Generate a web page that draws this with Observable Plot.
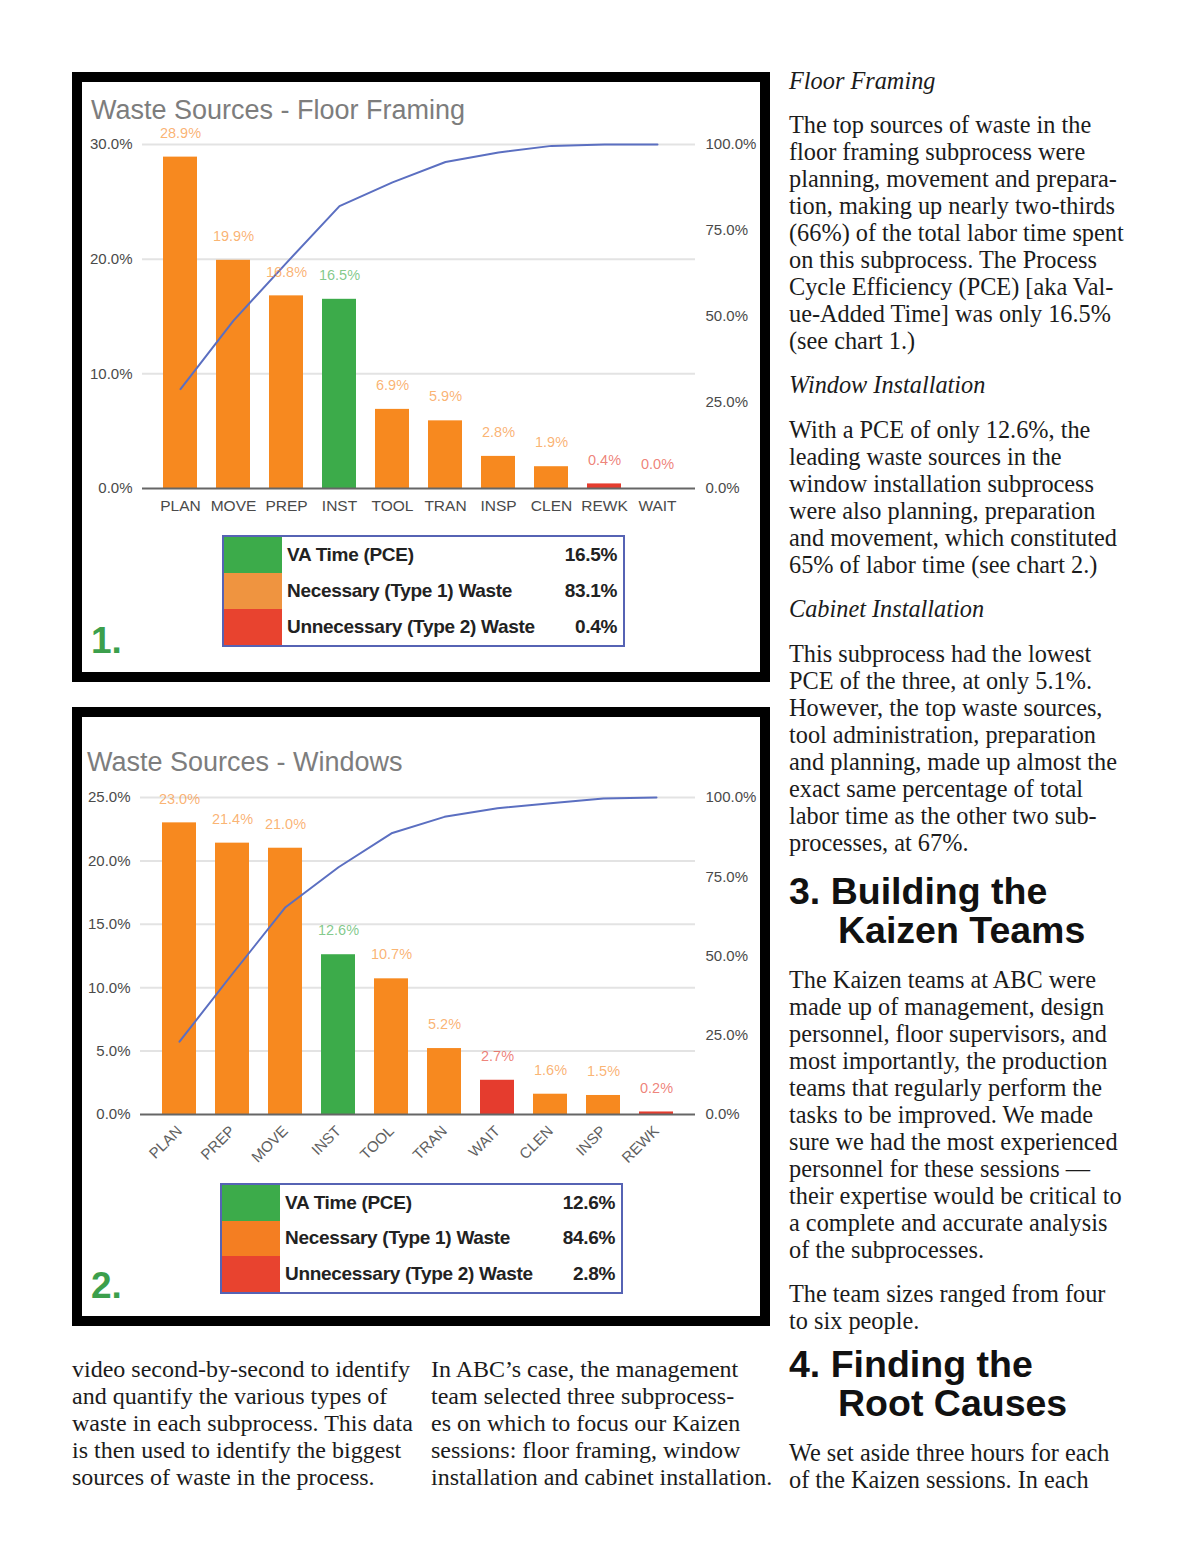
<!DOCTYPE html>
<html>
<head>
<meta charset="utf-8">
<script src="https://cdn.jsdelivr.net/npm/d3@7"></script>
<script src="https://cdn.jsdelivr.net/npm/@observablehq/plot@0.6"></script>
<style>
  html, body { margin: 0; padding: 0; background: #fff; }
  #page { position: relative; width: 1200px; height: 1558px; overflow: hidden; background: #fff; }
  .frame { position: absolute; border: 10px solid #000; background: #fff; box-sizing: border-box; }
  .abs { position: absolute; white-space: nowrap; }
  .ctitle { font-family: "Liberation Sans", Arial, sans-serif; font-size: 27px; color: #7d7d7d; line-height: 30px; }
  .num { font-family: "Liberation Sans", Arial, sans-serif; font-weight: bold; font-size: 37px; color: #3c9f4c; line-height: 40px; }
  .legend { position: absolute; border: 2px solid #5663b4; box-sizing: border-box; background: #fff; }
  .legend table { border-collapse: collapse; width: 100%; height: 100%; }
  .legend td { padding: 0; font-family: "Liberation Sans", Arial, sans-serif; font-weight: bold; font-size: 19px; color: #222; letter-spacing: -0.3px; }
  .legend td.sw { width: 58px; }
  .legend td.lab { padding-left: 5px; }
  .legend td.val { text-align: right; padding-right: 6px; }
  .txt { font-family: "Liberation Serif", "Times New Roman", serif; font-size: 24.3px; line-height: 27px; color: #1b1b1b; }
  .txtb { font-family: "Liberation Serif", "Times New Roman", serif; font-size: 24px; line-height: 27px; color: #1b1b1b; }
  .it { font-style: italic; }
  .head { font-family: "Liberation Sans", Arial, sans-serif; font-weight: bold; font-size: 37.5px; line-height: 39px; color: #111; }
  .plotbox { position: absolute; }
</style>
</head>
<body>
<div id="page">
  <div class="frame" style="left:72px; top:72px; width:698px; height:610px;"></div>
  <div class="frame" style="left:72px; top:707px; width:698px; height:619px;"></div>

  <div class="abs ctitle" style="left:91px; top:95px;">Waste Sources - Floor Framing</div>
  <div class="abs ctitle" style="left:87px; top:747px;">Waste Sources - Windows</div>

  <div id="chart1" class="plotbox" style="left:82px; top:82px;"></div>
  <div id="chart2" class="plotbox" style="left:82px; top:717px;"></div>

  <div id="legend1" class="legend" style="left:222px; top:535px; width:403px; height:112px;"></div>
  <div id="legend2" class="legend" style="left:220px; top:1183px; width:403px; height:111px;"></div>

  <div class="abs num" style="left:91px; top:621px;">1.</div>
  <div class="abs num" style="left:91px; top:1266px;">2.</div>

  <div class="abs txt it" style="left:789px; top:67px;">Floor Framing</div>
  <div class="abs txt" style="left:789px; top:111px;">The top sources of waste in the<br>floor framing subprocess were<br>planning, movement and prepara-<br>tion, making up nearly two-thirds<br>(66%) of the total labor time spent<br>on this subprocess. The Process<br>Cycle Efficiency (PCE) [aka Val-<br>ue-Added Time] was only 16.5%<br>(see chart 1.)</div>
  <div class="abs txt it" style="left:789px; top:371px;">Window Installation</div>
  <div class="abs txt" style="left:789px; top:416px;">With a PCE of only 12.6%, the<br>leading waste sources in the<br>window installation subprocess<br>were also planning, preparation<br>and movement, which constituted<br>65% of labor time (see chart 2.)</div>
  <div class="abs txt it" style="left:789px; top:595px;">Cabinet Installation</div>
  <div class="abs txt" style="left:789px; top:640px;">This subprocess had the lowest<br>PCE of the three, at only 5.1%.<br>However, the top waste sources,<br>tool administration, preparation<br>and planning, made up almost the<br>exact same percentage of total<br>labor time as the other two sub-<br>processes, at 67%.</div>
  <div class="abs head" style="left:789px; top:872px;">3. Building the<br><span style="padding-left:49px">Kaizen Teams</span></div>
  <div class="abs txt" style="left:789px; top:966px;">The Kaizen teams at ABC were<br>made up of management, design<br>personnel, floor supervisors, and<br>most importantly, the production<br>teams that regularly perform the<br>tasks to be improved. We made<br>sure we had the most experienced<br>personnel for these sessions —<br>their expertise would be critical to<br>a complete and accurate analysis<br>of the subprocesses.</div>
  <div class="abs txt" style="left:789px; top:1280px;">The team sizes ranged from four<br>to six people.</div>
  <div class="abs head" style="left:789px; top:1345px;">4. Finding the<br><span style="padding-left:49px">Root Causes</span></div>
  <div class="abs txt" style="left:789px; top:1439px;">We set aside three hours for each<br>of the Kaizen sessions. In each</div>

  <div class="abs txtb" style="left:72px; top:1356px;">video second-by-second to identify<br>and quantify the various types of<br>waste in each subprocess. This data<br>is then used to identify the biggest<br>sources of waste in the process.</div>
  <div class="abs txtb" style="left:431px; top:1356px;">In ABC’s case, the management<br>team selected three subprocess-<br>es on which to focus our Kaizen<br>sessions: floor framing, window<br>installation and cabinet installation.</div>
</div>

<script>
// ---- Chart 1: Floor Framing ----
const cats1 = ["PLAN", "MOVE", "PREP", "INST", "TOOL", "TRAN", "INSP", "CLEN", "REWK", "WAIT"];
const vals1 = [28.9, 19.9, 16.8, 16.5, 6.9, 5.9, 2.8, 1.9, 0.4, 0.0];
const types1 = ["N", "N", "N", "VA", "N", "N", "N", "N", "U", "U"];
const cum1 = [28.9, 48.8, 65.6, 82.1, 89.0, 94.9, 97.7, 99.6, 100, 100];
const yTicks1 = [0, 10, 20, 30];
const yMax1 = 30;

// ---- Chart 2: Windows ----
const cats2 = ["PLAN", "PREP", "MOVE", "INST", "TOOL", "TRAN", "WAIT", "CLEN", "INSP", "REWK"];
const vals2 = [23.0, 21.4, 21.0, 12.6, 10.7, 5.2, 2.7, 1.6, 1.5, 0.2];
const types2 = ["N", "N", "N", "VA", "N", "N", "U", "N", "N", "U"];
const cum2 = [23.0, 44.4, 65.4, 78.0, 88.7, 93.9, 96.6, 98.2, 99.7, 100];
const yTicks2 = [0, 5, 10, 15, 20, 25];
const yMax2 = 25;

// ---- shared ----
const rightTicks = [0, 25, 50, 75, 100];
const typeDomain = ["VA", "N", "U"];
const typeColors = ["#3cab4a", "#f7891f", "#e53c2e"];
const legendLabels = ["VA Time (PCE)", "Necessary (Type 1) Waste", "Unnecessary (Type 2) Waste"];
const legendVals1 = ["16.5%", "83.1%", "0.4%"];
const legendVals2 = ["12.6%", "84.6%", "2.8%"];
const legendColors1 = ["#3cab4a", "#ef9440", "#e8432f"];
const legendColors2 = ["#3cab4a", "#f47e22", "#e8432f"];

function makeChart(cats, vals, types, cums, yTicks, yMax, cfg) {
  const data = cats.map((c, i) => ({cat: c, value: vals[i], type: types[i], cum: cums[i]}));
  return Plot.plot({
    width: 678,
    height: cfg.height,
    marginLeft: cfg.ml,
    marginRight: 65,
    marginTop: cfg.mt,
    marginBottom: cfg.mb,
    style: {fontFamily: "'Liberation Sans', Arial, sans-serif", fontSize: "15px", color: "#4a4a4a", background: "transparent", overflow: "visible"},
    x: {domain: cats, padding: 0.35, label: null, axis: null},
    y: {domain: [0, yMax], label: null, axis: null},
    color: {domain: typeDomain, range: typeColors},
    marks: [
      Plot.ruleY(yTicks.filter(d => d > 0), {stroke: "#e3e3e3", strokeWidth: 2}),
      Plot.barY(data, {x: "cat", y: "value", fill: "type"}),
      Plot.ruleY([0], {stroke: "#666", strokeWidth: 2}),
      Plot.line(data, {x: "cat", y: d => d.cum * yMax / 100, stroke: "#5b6fc1", strokeWidth: 2}),
      Plot.text(data, {x: "cat", y: "value", text: d => d.value.toFixed(1) + "%", fill: "type", fillOpacity: 0.65, dy: -24, fontSize: 14.5}),
      Plot.axisY(yTicks, {anchor: "left", tickSize: 0, tickPadding: 10, tickFormat: d => d.toFixed(1) + "%", fontSize: 15}),
      Plot.axisY(rightTicks.map(p => p * yMax / 100), {anchor: "right", tickSize: 0, tickPadding: 10, tickFormat: d => (d * 100 / yMax).toFixed(1) + "%", fontSize: 15}),
      cfg.rotate
        ? Plot.axisX({tickSize: 0, tickPadding: 14, tickRotate: -45, fontSize: 15, fill: "#606060"})
        : Plot.axisX({tickSize: 0, tickPadding: 11, fontSize: 15.5})
    ]
  });
}

document.getElementById("chart1").appendChild(
  makeChart(cats1, vals1, types1, cum1, yTicks1, yMax1, {height: 450, ml: 60, mt: 62, mb: 44, rotate: false})
);
document.getElementById("chart2").appendChild(
  makeChart(cats2, vals2, types2, cum2, yTicks2, yMax2, {height: 480, ml: 58, mt: 80, mb: 83, rotate: true})
);

function makeLegend(id, colors, values) {
  const rows = legendLabels.map((lab, i) =>
    `<tr><td class="sw" style="background:${colors[i]}"></td><td class="lab">${lab}</td><td class="val">${values[i]}</td></tr>`
  ).join("");
  document.getElementById(id).innerHTML = `<table>${rows}</table>`;
}
makeLegend("legend1", legendColors1, legendVals1);
makeLegend("legend2", legendColors2, legendVals2);
</script>
</body>
</html>
